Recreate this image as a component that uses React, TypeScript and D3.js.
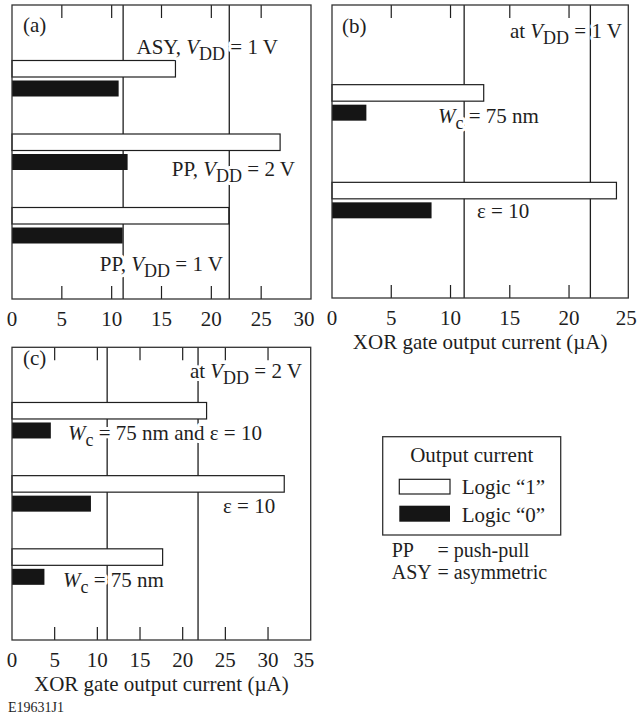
import React from 'react';
import * as d3 from 'd3';

const FONT = '"Liberation Serif", "Times New Roman", Times, serif';
const INK = '#1e1e1e';

// (a) gate topology comparison
const aCategories = ['ASY, VDD = 1 V', 'PP, VDD = 2 V', 'PP, VDD = 1 V'];
const aLogic1 = [16.4, 26.9, 21.75];
const aLogic0 = [10.7, 11.6, 11.1];
const aTicks = [0, 5, 10, 15, 20, 25, 30];

// (b) device variants at VDD = 1 V
const bCategories = ['Wc = 75 nm', 'ε = 10'];
const bLogic1 = [12.8, 24.0];
const bLogic0 = [2.9, 8.4];
const bTicks = [0, 5, 10, 15, 20, 25];

// (c) device variants at VDD = 2 V
const cCategories = ['Wc = 75 nm and ε = 10', 'ε = 10', 'Wc = 75 nm'];
const cLogic1 = [22.8, 31.9, 17.65];
const cLogic0 = [4.55, 9.25, 3.8];
const cTicks = [0, 5, 10, 15, 20, 25, 30, 35];

// vertical reference levels shared by all panels
const referenceLines = [11.15, 21.8];

const AXIS_TITLE = 'XOR gate output current (\u00b5A)';

// abbreviation key below the legend
const abbrevKeys = ['PP', 'ASY'];
const abbrevMeanings = ['push-pull', 'asymmetric'];

type Seg = { t: string; i?: boolean; sub?: boolean };
type Note = { segs: Seg[]; x: number; y: number; anchor?: 'start' | 'end' };
type Frame = { x0: number; x1: number; y0: number; y1: number };

const FS = 21;
const SUB_FS = 18;
const SUB_DY = 6;

function RichText({ segs, x, y, anchor = 'start' }: Note) {
  const parts: React.ReactNode[] = [];
  let shifted = false;
  segs.forEach((s, k) => {
    let dy = 0;
    if (s.sub && !shifted) { dy = SUB_DY; shifted = true; }
    else if (!s.sub && shifted) { dy = -SUB_DY; shifted = false; }
    parts.push(
      <tspan key={k} dy={dy || undefined} fontStyle={s.i ? 'italic' : undefined}
        fontSize={s.sub ? SUB_FS : undefined}>{s.t}</tspan>
    );
  });
  return (
    <text x={x} y={y} textAnchor={anchor} fontFamily={FONT} fontSize={FS} fill={INK}
      stroke="#fff" strokeWidth={6} strokeLinejoin="round"
      style={{ paintOrder: 'stroke' }} xmlSpace="preserve">
      {parts}
    </text>
  );
}

function Panel({ frame, max, ticks, categories, logic1, logic0, notes, title, lastShift = 0 }: {
  frame: Frame; max: number; ticks: number[]; categories: string[];
  logic1: number[]; logic0: number[]; notes: Note[]; title?: string; lastShift?: number;
}) {
  const x = d3.scaleLinear().domain([0, max]).range([frame.x0, frame.x1]);
  const y = d3.scalePoint<string>().domain(categories).range([frame.y0, frame.y1]).padding(1);
  const tickLen = 13;
  const whiteH = 16.5;
  const blackH = 16;
  return (
    <g>
      {/* reference levels */}
      {referenceLines.map((v) => (
        <line key={v} x1={x(v)} x2={x(v)} y1={frame.y0} y2={frame.y1} stroke={INK} strokeWidth={1.3} />
      ))}
      {/* inner ticks, top and bottom */}
      {ticks.slice(1, -1).map((t) => (
        <g key={t}>
          <line x1={x(t)} x2={x(t)} y1={frame.y0} y2={frame.y0 + tickLen} stroke={INK} strokeWidth={1.2} />
          <line x1={x(t)} x2={x(t)} y1={frame.y1} y2={frame.y1 - tickLen} stroke={INK} strokeWidth={1.2} />
        </g>
      ))}
      {/* bars */}
      {categories.map((c, k) => {
        const cy = y(c) as number;
        return (
          <g key={c}>
            <rect x={x(0)} y={cy - 18} width={x(logic1[k]) - x(0)} height={whiteH}
              fill="#fff" stroke={INK} strokeWidth={1.2} />
            <rect x={x(0)} y={cy + 2} width={x(logic0[k]) - x(0)} height={blackH}
              fill="#151515" />
          </g>
        );
      })}
      {notes.map((n, k) => <RichText key={k} {...n} />)}
      {/* frame */}
      <rect x={frame.x0} y={frame.y0} width={frame.x1 - frame.x0} height={frame.y1 - frame.y0}
        fill="none" stroke="#333" strokeWidth={1.3} />
      {/* tick labels */}
      {ticks.map((t, k) => (
        <text key={t} x={x(t) + (k === ticks.length - 1 ? lastShift : 0)} y={frame.y1 + 27}
          textAnchor="middle" fontFamily={FONT} fontSize={FS} fill={INK}>{t}</text>
      ))}
      {title && (
        <text x={(frame.x0 + frame.x1) / 2} y={frame.y1 + 51} textAnchor="middle"
          fontFamily={FONT} fontSize={FS} fill={INK}>{title}</text>
      )}
    </g>
  );
}

const VDD = (v: string): Seg[] => [{ t: 'V', i: true }, { t: 'DD', sub: true }, { t: ` = ${v} V` }];
const WC: Seg[] = [{ t: 'W', i: true }, { t: 'c', sub: true }];

export default function App() {
  const frameA: Frame = { x0: 12, x1: 311, y0: 5, y1: 299 };
  const frameB: Frame = { x0: 332, x1: 628.3, y0: 5, y1: 298 };
  const frameC: Frame = { x0: 12, x1: 310.7, y0: 347.3, y1: 640 };

  const notesA: Note[] = [
    { segs: [{ t: '(a)' }], x: 23, y: 32 },
    { segs: [{ t: 'ASY, ' }, ...VDD('1')], x: 278, y: 53.5, anchor: 'end' },
    { segs: [{ t: 'PP, ' }, ...VDD('2')], x: 295, y: 176, anchor: 'end' },
    { segs: [{ t: 'PP, ' }, ...VDD('1')], x: 223, y: 270.5, anchor: 'end' },
  ];
  const notesB: Note[] = [
    { segs: [{ t: '(b)' }], x: 342, y: 33 },
    { segs: [{ t: 'at ' }, ...VDD('1')], x: 622, y: 38, anchor: 'end' },
    { segs: [...WC, { t: ' = 75 nm' }], x: 438, y: 122.5 },
    { segs: [{ t: '\u03b5 = 10' }], x: 477, y: 218 },
  ];
  const notesC: Note[] = [
    { segs: [{ t: '(c)' }], x: 23, y: 365 },
    { segs: [{ t: 'at ' }, ...VDD('2')], x: 302, y: 377.5, anchor: 'end' },
    { segs: [...WC, { t: ' = 75 nm and \u03b5 = 10' }], x: 68, y: 440 },
    { segs: [{ t: '\u03b5 = 10' }], x: 223, y: 513 },
    { segs: [...WC, { t: ' = 75 nm' }], x: 63, y: 586.5 },
  ];

  return (
    <svg width={640} height={722} style={{ position: 'absolute', left: 0, top: 0, background: '#fff' }}>
      <rect width={640} height={722} fill="#fff" />
      <Panel frame={frameA} max={30} ticks={aTicks} categories={aCategories}
        logic1={aLogic1} logic0={aLogic0} notes={notesA} lastShift={-7} />
      <Panel frame={frameB} max={25} ticks={bTicks} categories={bCategories}
        logic1={bLogic1} logic0={bLogic0} notes={notesB} title={AXIS_TITLE} lastShift={-2} />
      <Panel frame={frameC} max={35} ticks={cTicks} categories={cCategories}
        logic1={cLogic1} logic0={cLogic0} notes={notesC} title={AXIS_TITLE} lastShift={-7} />

      {/* legend */}
      <g fontFamily={FONT} fontSize={FS} fill={INK}>
        <rect x={382.7} y={436.7} width={178} height={98.3} fill="#fff" stroke="#333" strokeWidth={1.3} />
        <text x={471.7} y={461.7} textAnchor="middle">Output current</text>
        <rect x={399.3} y={479.3} width={50.7} height={14.7} fill="#fff" stroke={INK} strokeWidth={1.2} />
        <text x={461.7} y={494}>Logic {'\u201c1\u201d'}</text>
        <rect x={399.3} y={505.7} width={50.7} height={16} fill="#151515" />
        <text x={461.7} y={521.7}>Logic {'\u201c0\u201d'}</text>
      </g>

      {/* abbreviation key */}
      {abbrevKeys.map((k, i) => (
        <text key={k} x={391.7} y={557 + i * 21.5} fontFamily={FONT} fontSize={20} fill={INK}>
          <tspan>{k}</tspan>
          <tspan x={437.5}>= {abbrevMeanings[i]}</tspan>
        </text>
      ))}

      <text x={8} y={712} fontFamily={FONT} fontSize={14} fill={INK}>E19631J1</text>
    </svg>
  );
}
